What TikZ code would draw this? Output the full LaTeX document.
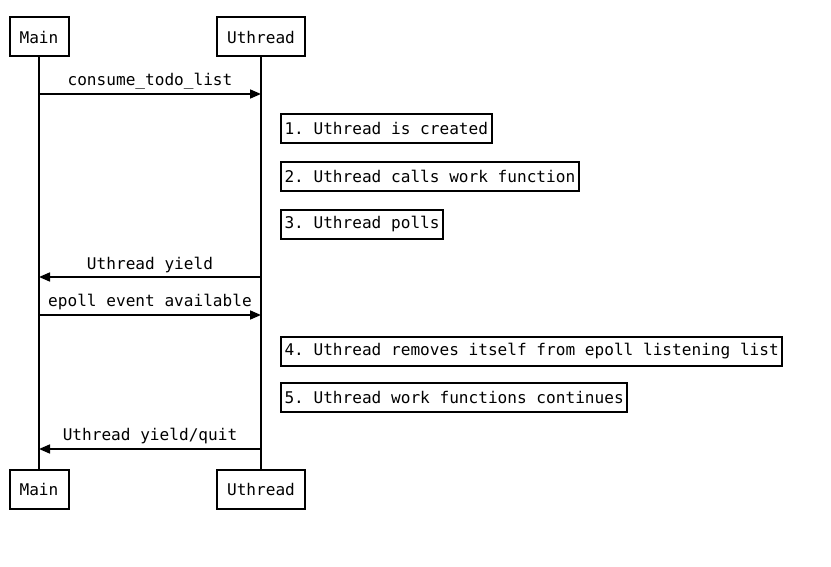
\documentclass[tikz,border=0pt]{standalone}
\usepackage{fontspec}
\setmonofont{DejaVu Sans Mono}
\usetikzlibrary{arrows.meta}
\begin{document}
\begin{tikzpicture}[x=1pt,y=-1pt,
  txt/.style={font=\ttfamily\fontsize{16.1}{19}\selectfont},
  actor/.style={txt,draw,line width=2pt,minimum height=39pt,inner xsep=0pt},
  note/.style={txt,draw,line width=2pt,minimum height=29pt,inner xsep=3.5pt,anchor=west},
  life/.style={line width=2pt},
  msg/.style={line width=1.6pt,-{Triangle[length=11pt,width=9pt]}},
  lbl/.style={txt,inner sep=0pt}]
\useasboundingbox (0,0) rectangle (831,567);
\node[actor,minimum width=59pt] (m1) at (39,37) {Main};
\node[actor,minimum width=88pt] (u1) at (261,37) {Uthread};
\node[actor,minimum width=59pt] (m2) at (39,489) {Main};
\node[actor,minimum width=88pt] (u2) at (261,489) {Uthread};
\draw[life] (m1) -- (m2);
\draw[life] (u1) -- (u2);
% messages
\draw[msg] (m1 |- 0,94) -- (u1 |- 0,94);
\node[lbl] (l1) at (150,81) {consume\_todo\_list};
\node[note] (n1) at (280,128.5) {1. Uthread is created};
\node[note] (n2) at (280,176.5) {2. Uthread calls work function};
\node[note] (n3) at (280,224.5) {3. Uthread polls};
\draw[msg] (u1 |- 0,277) -- (m1 |- 0,277);
\node[lbl] (l2) at (150,265) {Uthread yield};
\draw[msg] (m1 |- 0,315) -- (u1 |- 0,315);
\node[lbl] (l3) at (150,302) {epoll event available};
\node[note] (n4) at (280,351) {4. Uthread removes itself from epoll listening list};
\node[note] (n5) at (280,397) {5. Uthread work functions continues};
\draw[msg] (u1 |- 0,449) -- (m1 |- 0,449);
\node[lbl] (l4) at (150,436) {Uthread yield/quit};
\end{tikzpicture}
\end{document}
